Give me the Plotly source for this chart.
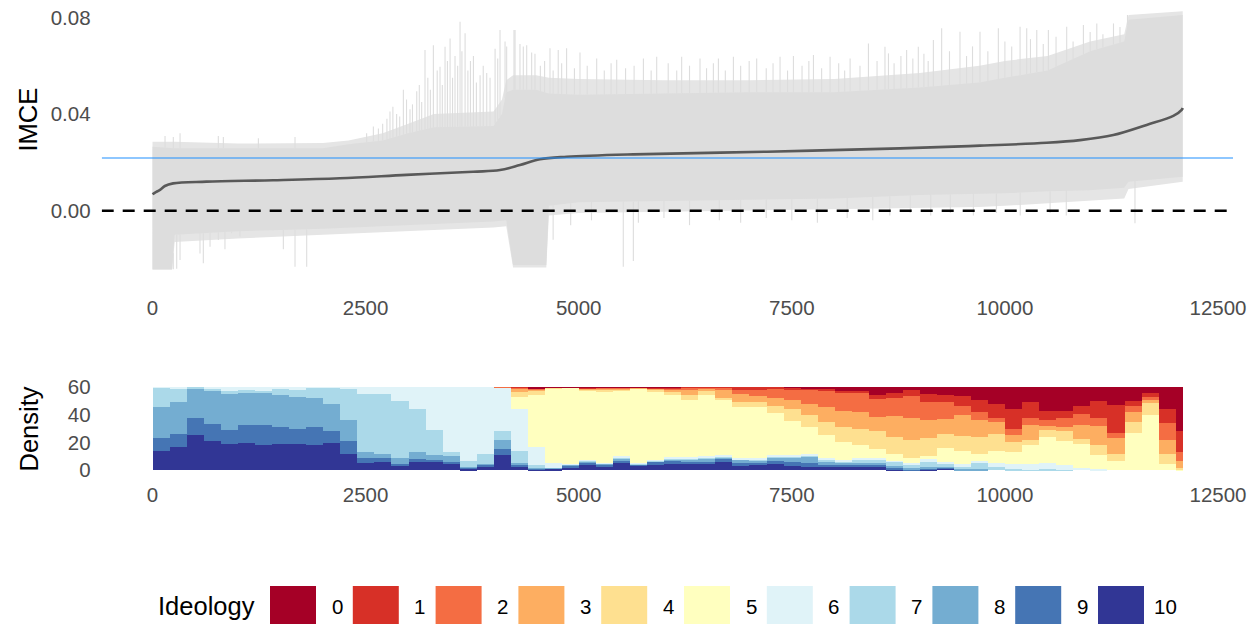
import numpy as np
import plotly.graph_objects as go

# ---------------- data ----------------
N_ITEMS = 12086
BIN_WIDTH = 200

# sorted IMCE estimates (line)
imce_x = [0, 30, 88, 145, 242, 633, 1415, 2197, 2979, 3761, 4077, 4311, 4546, 4859,
          5641, 7206, 8769, 9708, 10490, 10881, 11272, 11663, 11976, 12074, 12086]
imce_y = [0.0068, 0.0075, 0.0086, 0.0102, 0.0113, 0.0120, 0.0126, 0.0134, 0.0148, 0.0161,
          0.0168, 0.0189, 0.0213, 0.0223, 0.0233, 0.0244, 0.0258, 0.0269, 0.0281, 0.0292,
          0.0313, 0.0355, 0.0392, 0.0417, 0.0425]

# confidence-interval envelope (dense core and sparse outer zone)
env_x = [0, 230, 260, 1000, 2000, 2300, 2700, 3000, 3300, 4000, 4100, 4150, 4230, 4500,
         4620, 4650, 5000, 6000, 7000, 8000, 9000, 9700, 10000, 10500, 11000, 11400, 11450, 12086]
core_hi = [0.0265, 0.026, 0.0258, 0.0258, 0.0258, 0.0275, 0.029, 0.032, 0.0345, 0.035, 0.040,
           0.049, 0.050, 0.050, 0.049, 0.0485, 0.048, 0.0485, 0.049, 0.049, 0.051, 0.053, 0.055,
           0.058, 0.066, 0.070, 0.079, 0.081]
core_lo = [-0.0243, -0.0243, -0.010, -0.0085, -0.0075, -0.007, -0.0065, -0.006, -0.0055, -0.0045,
           -0.004, -0.004, -0.0225, -0.0225, -0.0225, 0.002, 0.0035, 0.004, 0.0045, 0.005, 0.0065,
           0.007, 0.0072, 0.008, 0.0085, 0.0095, 0.012, 0.014]
outer_hi = [0.0285, 0.0285, 0.0285, 0.0278, 0.028, 0.029, 0.032, 0.036, 0.040, 0.041, 0.046, 0.054,
            0.056, 0.056, 0.055, 0.055, 0.0545, 0.054, 0.054, 0.0545, 0.057, 0.060, 0.062, 0.064,
            0.070, 0.073, 0.081, 0.0825]
outer_lo = [-0.0245, -0.0245, -0.013, -0.0115, -0.010, -0.0095, -0.009, -0.0085, -0.008, -0.007,
            -0.0065, -0.0065, -0.0235, -0.0235, -0.0235, -0.002, -0.001, -0.0005, 0.0, 0.0005,
            0.001, 0.0015, 0.002, 0.003, 0.004, 0.005, 0.009, 0.012]

# individual long upper / lower interval ends
spike_up_x = [147, 244, 323, 772, 831, 1242, 1672, 2512, 2591, 2650, 2700, 2750, 2786, 2820,
              2864, 2900, 2943, 2980, 3021, 3050, 3100, 3130, 3158, 3197, 3230, 3260, 3295,
              3340, 3373, 3400, 3432, 3460, 3491, 3520, 3549, 3580, 3608, 3630, 3667, 3700,
              3730, 3765, 3800, 3843, 3880, 3921, 3960, 4019, 4050, 4077, 4136, 4155, 4241,
              4253, 4311, 4350, 4390, 4448, 4487, 4550, 4600, 4663, 4700, 4760, 4800, 4858,
              4950, 5015, 5100, 5211, 5300, 5380, 5446, 5550, 5650, 5759, 5850, 5915, 6050,
              6150, 6208, 6300, 6423, 6500, 6580, 6639, 6720, 6815, 6900, 7000, 7088, 7200,
              7280, 7362, 7450, 7519, 7620, 7700, 7754, 7850, 7949, 8050, 8120, 8184, 8300,
              8399, 8500, 8593, 8634, 8700, 8780, 8847, 8920, 8984, 9050, 9100, 9161, 9258,
              9350, 9473, 9550, 9620, 9708, 9800, 9923, 10000, 10080, 10178, 10256, 10300,
              10374, 10450, 10510, 10600, 10725, 10800, 10921, 11000, 11078, 11150, 11274,
              11350, 11438]
spike_up_y = [0.0309, 0.0305, 0.032, 0.0309, 0.0305, 0.030, 0.0305, 0.032, 0.0348, 0.034,
              0.036, 0.038, 0.041, 0.043, 0.040, 0.039, 0.050, 0.046, 0.042, 0.044, 0.0494,
              0.052, 0.045, 0.0665, 0.055, 0.050, 0.0685, 0.058, 0.0596, 0.052, 0.0678, 0.062,
              0.0713, 0.055, 0.064, 0.060, 0.0782, 0.066, 0.0734, 0.058, 0.062, 0.064, 0.053,
              0.0561, 0.060, 0.057, 0.055, 0.067, 0.063, 0.0748, 0.070, 0.068, 0.0748, 0.0748,
              0.069, 0.068, 0.0685, 0.0655, 0.065, 0.060, 0.062, 0.0672, 0.058, 0.0665, 0.061,
              0.0672, 0.059, 0.0655, 0.060, 0.063, 0.058, 0.061, 0.0625, 0.059, 0.060, 0.063,
              0.058, 0.0637, 0.061, 0.058, 0.0637, 0.060, 0.063, 0.059, 0.061, 0.063, 0.058,
              0.0637, 0.060, 0.062, 0.063, 0.059, 0.061, 0.0637, 0.058, 0.064, 0.060, 0.062,
              0.0644, 0.059, 0.0637, 0.061, 0.058, 0.063, 0.060, 0.0692, 0.062, 0.0679, 0.0651,
              0.061, 0.064, 0.0665, 0.063, 0.0679, 0.065, 0.062, 0.0706, 0.0755, 0.066, 0.0741,
              0.064, 0.068, 0.0741, 0.066, 0.0755, 0.070, 0.068, 0.0761, 0.0755, 0.071, 0.0748,
              0.069, 0.0748, 0.072, 0.0761, 0.070, 0.0768, 0.074, 0.0775, 0.073, 0.0775, 0.076,
              0.0810]
spike_dn_x = [244, 284, 323, 557, 596, 675, 772, 850, 928, 1026, 1417, 1535, 1672, 1809,
              4700, 4906, 5150, 5523, 5641, 5700, 6000, 6300, 6650, 6900, 7200, 7500, 7800,
              8150, 8450, 8650, 8890, 9130, 9360, 9630, 9900, 10180, 10530, 10720, 11526]
spike_dn_y = [-0.0243, -0.024, -0.0204, -0.0177, -0.0218, -0.0149, -0.0121, -0.016, -0.0094,
              -0.0107, -0.008, -0.016, -0.0232, -0.0232, -0.012, -0.006, -0.004, -0.0232,
              -0.0208, -0.005, -0.003, -0.006, -0.004, -0.005, -0.003, -0.004, -0.005, -0.003,
              -0.004, -0.002, -0.001, -0.002, -0.001, -0.002, -0.001, -0.002, -0.001, -0.002,
              -0.0052]

reference_value = 0.0218   # blue reference line
zero_value = 0.0

x_ticks = [0, 2500, 5000, 7500, 10000, 12500]
imce_ticks = [0.0, 0.04, 0.08]
density_ticks = [0, 20, 40, 60]

# ideology composition per bin (density, stacks to 60)
ideology_levels = ["0", "1", "2", "3", "4", "5", "6", "7", "8", "9", "10"]
ideo_10 = [14, 17, 25.5, 21, 19, 20, 18.5, 19, 19, 18.5, 19.5, 11.5, 5.5, 6, 3.5, 6, 6.5, 4.5, 1, 2.5,
           11, 3, 0.5, 1, 2.2, 3.5, 3, 5, 2.8, 4, 4.5, 4.5, 4.5, 6, 3, 3.5, 4.5, 3.3, 2, 2.7,
           2.5, 2.7, 2.2, 0.5, 0, 0.5, 1.5, 0, 0, 0, 0, 0, 0, 0, 0, 0, 0, 0, 0, 0, 0]
ideo_9 = [9, 9, 12.5, 12.5, 10, 13, 14, 12.5, 11, 12.5, 8.5, 9.5, 3, 2.5, 1, 2, 1, 1.5, 1, 1.5,
          4, 1, 0.5, 0.2, 1.3, 2, 1, 2, 1.7, 2, 2, 1.5, 1.5, 2, 2, 2, 2.5, 2.7, 3, 0.8,
          1, 1.3, 1.8, 1, 0.2, 0.5, 0.5, 0, 0, 0, 0, 0, 0, 0, 0, 0, 0, 0, 0, 0, 0]
ideo_8 = [23, 23, 20.5, 24, 26, 23, 23, 23, 23, 21, 19.5, 15, 4.5, 3.5, 4, 5, 3.5, 4, 0.5, 0.5,
          7, 1, 0.5, 0.3, 0.5, 1, 1, 1, 0, 0.5, 1.5, 2, 2.5, 1.5, 2.5, 1.5, 2, 3.5, 4.5, 3,
          2, 1.5, 1.5, 1.5, 1.3, 1.5, 0.5, 1, 1, 0, 0, 0, 0, 0, 0, 0, 0, 0, 0, 0, 0]
ideo_7 = [13.5, 9.5, 1.5, 1.5, 2.5, 2, 2, 4, 5, 7.5, 12, 23, 42, 43, 41.5, 31, 18, 3.5, 4.5, 7.5,
          6, 9, 2.5, 0, 0, 0.5, 0, 1.5, 0.5, 0.5, 0.8, 0.5, 1, 0.5, 0.5, 0.5, 1, 0.5, 1.5, 1,
          1, 2.5, 2.5, 3, 2.5, 3.5, 2.5, 1.5, 4.5, 2, 1, 0.5, 1, 0.3, 0, 0, 0, 0, 0, 0, 0]
ideo_6 = [0.5, 1.5, 0, 1, 2.5, 2, 2.5, 1.5, 2, 0.5, 0.5, 1, 5, 5, 10, 16, 31, 46.5, 53, 48,
          31.5, 30, 13, 4, 0.5, 0.5, 0.5, 1, 0.5, 0.5, 0.7, 1, 1, 1, 1, 1, 1, 1, 1, 1,
          1, 1, 1, 1, 1.5, 2, 1, 2, 1, 3.5, 3.5, 4, 4.5, 3.2, 1.8, 1, 0, 0, 0, 0, 0]
ideo_5 = [0, 0, 0, 0, 0, 0, 0, 0, 0, 0, 0, 0, 0, 0, 0, 0, 0, 0, 0, 0,
          0.2, 9, 37, 53.5, 55, 50, 51.5, 47, 53.5, 49, 44.5, 41.5, 43.5, 40, 37, 37.5, 30.5, 24.5, 19, 17,
          13, 9.5, 6.5, 4.5, 3.5, 2.5, 10, 9.5, 5, 8.5, 8.5, 13.5, 18.5, 17.5, 17.2, 10, 6.5, 27, 40, 4.5, 0.5]
ideo_4 = [0, 0, 0, 0, 0, 0, 0, 0, 0, 0, 0, 0, 0, 0, 0, 0, 0, 0, 0, 0,
          0.1, 3.5, 3, 0.5, 0.2, 1, 1, 1, 0.3, 2, 2.2, 3, 3, 1.5, 3, 3.5, 5, 9, 9, 9,
          10.5, 11.5, 12.5, 12.5, 13, 12.5, 10, 11, 12.5, 12, 7.5, 3.5, 5, 7.5, 3.5, 7, 5.5, 8, 8.5, 7.5, 1.2]
ideo_3 = [0, 0, 0, 0, 0, 0, 0, 0, 0, 0, 0, 0, 0, 0, 0, 0, 0, 0, 0, 0,
          0.1, 2.5, 1.5, 0, 0, 0.8, 1, 0.5, 0.1, 0.5, 2.3, 4.2, 1.8, 6, 6, 4, 5.5, 6, 8, 11.5,
          12, 12, 10.5, 15, 16, 13, 11, 15, 12, 9, 5, 11.5, 3, 3, 10.5, 14, 11.5, 7, 2, 10, 4.7]
ideo_2 = [0, 0, 0, 0, 0, 0, 0, 0, 0, 0, 0, 0, 0, 0, 0, 0, 0, 0, 0, 0,
          0.1, 0.7, 0.4, 0, 0, 0, 0.6, 0.4, 0, 0.3, 0.8, 1.6, 1, 1.2, 3, 4.5, 7, 8, 10, 11.5,
          12.5, 14, 13, 13, 15.5, 13, 12, 6.5, 6, 3, 4.5, 5, 4, 6, 7.5, 5.5, 3.5, 4.5, 2.5, 12, 6.5]
ideo_1 = [0, 0, 0, 0, 0, 0, 0, 0, 0, 0, 0, 0, 0, 0, 0, 0, 0, 0, 0, 0,
          0, 0.3, 0.3, 0, 0, 0.2, 0.2, 0, 0, 0.3, 0.4, 0.2, 0.2, 0.3, 2, 2, 1, 1.2, 1, 1,
          2, 1, 3, 4, 4.5, 6, 5.5, 7, 9, 10, 14.5, 11, 7, 5.5, 6, 12.5, 20, 3.5, 2.5, 10, 15.7]
ideo_0 = [0, 0, 0, 0, 0, 0, 0, 0, 0, 0, 0, 0, 0, 0, 0, 0, 0, 0, 0, 0,
          0, 0, 0.8, 0.5, 0.3, 0.5, 0.2, 0.6, 0.6, 0.4, 0.3, 0, 0, 0, 0, 0, 0, 0.3, 1, 1.5,
          2.5, 3, 5.5, 4, 2, 5, 5.5, 6.5, 9, 12, 15.5, 11, 17, 17, 13.5, 10, 13, 10, 4.5, 16, 31.4]

ideology_values = [ideo_0, ideo_1, ideo_2, ideo_3, ideo_4, ideo_5,
                   ideo_6, ideo_7, ideo_8, ideo_9, ideo_10]
ideology_colors = ["#A50026", "#D73027", "#F46D43", "#FDAE61", "#FEE090", "#FFFFBF",
                   "#E0F3F8", "#ABD9E9", "#74ADD1", "#4575B4", "#313695"]

# ---------------- geometry helpers ----------------
W, H = 1258, 624
def py(p):
    return 1 - p / H
def pxx(p):
    return p / W

X_RANGE = [-596, 12676]
X_DOM = [pxx(101.7), pxx(1233)]

FONT = "Liberation Sans, Arial, sans-serif"
TICK_FONT = dict(family=FONT, size=20.5, color="#4D4D4D")
HIDDEN_TICK_Y = dict(ticks="outside", ticklen=6, tickcolor="rgba(0,0,0,0)")
HIDDEN_TICK_X = dict(ticks="outside", ticklen=2, tickcolor="rgba(0,0,0,0)")

CI_CORE = "#DDDDDD"
CI_OUTER = "#E5E5E5"

fig = go.Figure()

# outer sparse zone
fig.add_trace(go.Scatter(x=env_x, y=outer_lo, mode="lines", line=dict(width=0, color=CI_OUTER),
                         hoverinfo="skip", xaxis="x", yaxis="y"))
fig.add_trace(go.Scatter(x=env_x, y=outer_hi, mode="lines", line=dict(width=0, color=CI_OUTER),
                         fill="tonexty", fillcolor=CI_OUTER, hoverinfo="skip", xaxis="x", yaxis="y"))
# dense core
fig.add_trace(go.Scatter(x=env_x, y=core_lo, mode="lines", line=dict(width=0, color=CI_CORE),
                         hoverinfo="skip", xaxis="x", yaxis="y"))
fig.add_trace(go.Scatter(x=env_x, y=core_hi, mode="lines", line=dict(width=0, color=CI_CORE),
                         fill="tonexty", fillcolor=CI_CORE, hoverinfo="skip", xaxis="x", yaxis="y"))

# long individual interval ends
up_base = np.interp(spike_up_x, env_x, core_hi)
dn_base = np.interp(spike_dn_x, env_x, core_lo)
sx, sy = [], []
for x0, b, t in zip(spike_up_x, up_base, spike_up_y):
    sx += [x0, x0, None]
    sy += [b, t, None]
for x0, b, t in zip(spike_dn_x, dn_base, spike_dn_y):
    sx += [x0, x0, None]
    sy += [b, t, None]
fig.add_trace(go.Scatter(x=sx, y=sy, mode="lines", line=dict(width=1.1, color=CI_CORE),
                         hoverinfo="skip", xaxis="x", yaxis="y"))

# IMCE line
fig.add_trace(go.Scatter(x=imce_x, y=imce_y, mode="lines", line=dict(width=2.6, color="#595959", shape="spline"),
                         xaxis="x", yaxis="y"))
# reference lines
fig.add_trace(go.Scatter(x=X_RANGE, y=[reference_value] * 2, mode="lines",
                         line=dict(width=1.2, color="#1E90FF"), xaxis="x", yaxis="y"))
fig.add_trace(go.Scatter(x=X_RANGE, y=[zero_value] * 2, mode="lines",
                         line=dict(width=2.5, color="black", dash="12px,9px"), xaxis="x", yaxis="y"))

# histogram composition
edges = np.arange(0, N_ITEMS, BIN_WIDTH)
widths = np.minimum(BIN_WIDTH, N_ITEMS - edges)
centers = edges + widths / 2
for lvl, vals, col in reversed(list(zip(ideology_levels, ideology_values, ideology_colors))):
    fig.add_trace(go.Bar(x=centers, y=vals, width=widths, marker=dict(color=col, line=dict(width=0)),
                         name=lvl, xaxis="x2", yaxis="y2"))

fig.update_layout(
    width=W, height=H, autosize=False,
    margin=dict(l=0, r=0, t=0, b=0, pad=0, autoexpand=False),
    paper_bgcolor="white", plot_bgcolor="white",
    showlegend=False, barmode="stack", bargap=0,
    xaxis=dict(domain=X_DOM, range=X_RANGE, tickvals=x_ticks, ticktext=[str(v) for v in x_ticks],
               showgrid=False, zeroline=False, showline=False, tickfont=TICK_FONT,
               automargin=False, **HIDDEN_TICK_X),
    yaxis=dict(domain=[py(287), 1.0], range=[-0.0316, 0.0872], tickvals=imce_ticks,
               ticktext=["0.00", "0.04", "0.08"], showgrid=False, zeroline=False, showline=False,
               tickfont=TICK_FONT, automargin=False, **HIDDEN_TICK_Y),
    xaxis2=dict(domain=X_DOM, range=X_RANGE, tickvals=x_ticks, ticktext=[str(v) for v in x_ticks],
                showgrid=False, zeroline=False, showline=False, tickfont=TICK_FONT,
                anchor="y2", automargin=False, **HIDDEN_TICK_X),
    yaxis2=dict(domain=[py(474.2), py(382.8)], range=[-3, 63], tickvals=density_ticks,
                showgrid=False, zeroline=False, showline=False, tickfont=TICK_FONT,
                anchor="x2", automargin=False, **HIDDEN_TICK_Y),
)

TITLE_FONT = dict(family=FONT, size=25.5, color="black")
fig.add_annotation(x=pxx(28), y=py(119.5), xref="paper", yref="paper", text="IMCE", textangle=-90,
                   showarrow=False, font=TITLE_FONT, xanchor="center", yanchor="middle")
fig.add_annotation(x=pxx(28), y=py(428.5), xref="paper", yref="paper", text="Density", textangle=-90,
                   showarrow=False, font=TITLE_FONT, xanchor="center", yanchor="middle")

# legend (drawn manually to reproduce the large keys)
fig.add_annotation(x=pxx(207), y=py(606), xref="paper", yref="paper", text="Ideology",
                   showarrow=False, font=TITLE_FONT, xanchor="center", yanchor="middle")
for i, (lvl, col) in enumerate(zip(ideology_levels, ideology_colors)):
    x0 = 270 + 82.8 * i
    fig.add_shape(type="rect", xref="paper", yref="paper", x0=pxx(x0), x1=pxx(x0 + 46),
                  y0=py(624), y1=py(586), fillcolor=col, line=dict(width=0))
    fig.add_annotation(x=pxx(337 + 82.8 * i), y=py(606), xref="paper", yref="paper", text=lvl,
                       showarrow=False, font=dict(family=FONT, size=20.5, color="black"),
                       xanchor="center", yanchor="middle")

post = "document.body.style.margin='0';document.body.style.overflow='hidden';"
fig.write_html("out.html", config={"displayModeBar": False}, post_script=post)
